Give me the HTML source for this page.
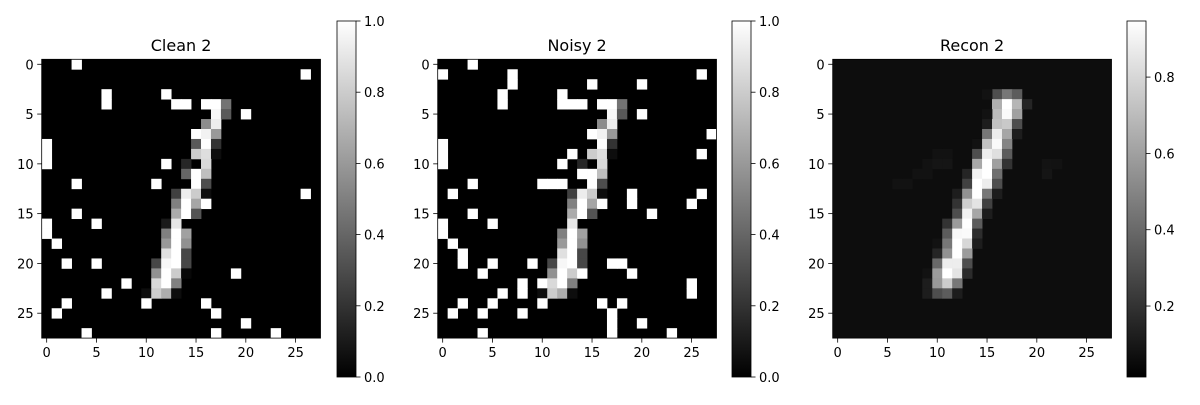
<!DOCTYPE html>
<html><head><meta charset="utf-8"><style>
body{margin:0;background:#fff;}
svg text{font-family:"DejaVu Sans","Liberation Sans",sans-serif;fill:#000;}
</style></head><body>
<svg id="fig" width="1200" height="400" viewBox="0 0 1200 400" xmlns="http://www.w3.org/2000/svg"></svg>
<script>
// [row, col, value] sparse pixel data (rest = 0)
const cleanPixels = [
[0,3,1],[1,26,1],[3,6,1],[3,12,1],[4,6,1],[4,13,1],[4,14,1],[4,16,1],[4,17,1],[4,18,0.45],
[5,17,0.97],[5,18,0.35],[5,20,1],[6,16,0.55],[6,17,0.93],[7,15,1],[7,16,0.95],[7,17,0.6],
[8,0,1],[8,15,0.35],[8,16,1],[8,17,0.2],[9,0,1],[9,15,0.8],[9,16,0.87],[9,17,0.05],
[10,0,1],[10,12,1],[10,14,0.15],[10,16,0.85],[11,14,0.4],[11,15,1],[11,16,0.75],
[12,3,1],[12,11,1],[12,15,1],[12,16,0.3],[13,13,0.25],[13,14,0.93],[13,15,0.8],[13,16,0.05],[13,26,1],
[14,13,0.5],[14,14,1],[14,15,0.65],[14,16,1],[15,3,1],[15,13,0.67],[15,14,1],[15,15,0.33],
[16,0,1],[16,5,1],[16,12,0.1],[16,13,0.9],[17,0,1],[17,12,0.5],[17,13,1],[17,14,0.63],
[18,1,1],[18,12,0.6],[18,13,1],[18,14,0.57],[19,12,0.88],[19,13,1],[19,14,0.28],
[20,2,1],[20,5,1],[20,11,0.28],[20,12,0.97],[20,13,1],[20,14,0.28],
[21,11,0.57],[21,12,1],[21,13,0.8],[21,14,0.03],[21,19,1],
[22,8,1],[22,11,0.85],[22,12,1],[22,13,0.5],[23,6,1],[23,10,0.05],[23,11,0.8],[23,12,0.68],[23,13,0.05],
[24,2,1],[24,10,1],[24,16,1],[25,1,1],[25,17,1],[26,20,1],[27,4,1],[27,17,1],[27,23,1]
];
const noisyPixels = [
[0,3,1],[1,0,1],[1,7,1],[1,26,1],[2,7,1],[2,15,1],[2,20,1],[3,6,1],[3,12,1],
[4,6,1],[4,12,1],[4,13,1],[4,14,1],[4,16,1],[4,17,1],[4,18,0.45],
[5,17,0.97],[5,18,0.35],[5,20,1],[6,16,0.55],[6,17,0.93],[7,15,1],[7,16,0.95],[7,17,0.6],[7,27,1],
[8,0,1],[8,16,1],[8,17,0.2],[9,0,1],[9,13,1],[9,15,0.8],[9,16,0.87],[9,17,0.05],[9,26,1],
[10,0,1],[10,12,1],[10,14,0.15],[10,16,0.85],[11,14,1],[11,15,1],[11,16,0.75],
[12,3,1],[12,10,1],[12,11,1],[12,12,1],[12,15,1],[12,16,0.3],
[13,1,1],[13,13,0.25],[13,14,0.93],[13,15,0.8],[13,16,0.05],[13,19,1],[13,26,1],
[14,13,0.5],[14,14,1],[14,15,0.65],[14,16,1],[14,19,1],[14,25,1],
[15,3,1],[15,13,0.67],[15,14,1],[15,15,0.33],[15,21,1],
[16,0,1],[16,5,1],[16,13,0.9],[17,0,1],[17,12,0.5],[17,13,1],[17,14,0.63],
[18,1,1],[18,12,0.6],[18,13,1],[18,14,0.57],[19,2,1],[19,12,0.88],[19,13,1],[19,14,0.28],
[20,2,1],[20,5,1],[20,9,1],[20,11,0.28],[20,12,0.97],[20,13,1],[20,14,0.28],[20,17,1],[20,18,1],
[21,4,1],[21,11,0.57],[21,12,1],[21,13,0.8],[21,14,1],[21,19,1],
[22,8,1],[22,10,1],[22,11,0.85],[22,12,1],[22,13,0.5],[22,25,1],
[23,6,1],[23,8,1],[23,10,0.05],[23,11,0.8],[23,12,0.68],[23,13,0.05],[23,25,1],
[24,2,1],[24,5,1],[24,10,1],[24,16,1],[24,18,1],
[25,1,1],[25,4,1],[25,8,1],[25,17,1],[26,17,1],[26,20,1],[27,4,1],[27,17,1],[27,23,1]
];
const reconBackground = 0.06;
const reconPixels = [
[3,16,0.3],[3,17,0.45],[3,18,0.35],[3,15,0.08],
[4,16,0.65],[4,17,0.97],[4,18,0.68],[4,19,0.15],
[5,16,0.7],[5,17,0.93],[5,18,0.6],[5,15,0.08],
[6,15,0.12],[6,16,0.72],[6,17,0.75],[6,18,0.3],
[7,15,0.45],[7,16,0.88],[7,17,0.62],[7,18,0.12],
[8,14,0.08],[8,15,0.72],[8,16,0.93],[8,17,0.5],
[9,14,0.3],[9,15,0.88],[9,16,0.83],[9,17,0.35],[9,10,0.08],[9,11,0.08],
[10,9,0.08],[10,10,0.09],[10,11,0.09],[10,14,0.63],[10,15,0.95],[10,16,0.6],[10,17,0.2],[10,21,0.085],[10,22,0.08],
[11,8,0.08],[11,9,0.08],[11,13,0.15],[11,14,0.9],[11,15,1.0],[11,16,0.42],[11,21,0.09],
[12,6,0.08],[12,7,0.08],[12,13,0.25],[12,14,0.96],[12,15,0.88],[12,16,0.3],
[13,12,0.12],[13,13,0.55],[13,14,0.97],[13,15,0.45],[13,16,0.12],
[14,12,0.2],[14,13,0.77],[14,14,0.85],[14,15,0.25],
[15,12,0.3],[15,13,0.9],[15,14,0.62],[15,15,0.12],
[16,11,0.2],[16,12,0.58],[16,13,0.98],[16,14,0.35],
[17,11,0.35],[17,12,0.92],[17,13,0.93],[17,14,0.18],
[18,10,0.08],[18,11,0.45],[18,12,1.0],[18,13,0.8],[18,14,0.12],
[19,10,0.15],[19,11,0.55],[19,12,0.95],[19,13,0.58],
[20,10,0.4],[20,11,0.88],[20,12,0.88],[20,13,0.3],
[21,9,0.08],[21,10,0.58],[21,11,1.0],[21,12,0.85],[21,13,0.17],
[22,9,0.12],[22,10,0.57],[22,11,0.76],[22,12,0.45],
[23,9,0.12],[23,10,0.3],[23,11,0.35],[23,12,0.12]
];
const axisTicks = [0,5,10,15,20,25];
const cbTicksA = [0.0,0.2,0.4,0.6,0.8,1.0];
const cbTicksR = [0.2,0.4,0.6,0.8];
const panelTitles = ["Clean 2","Noisy 2","Recon 2"];

const NS = "http://www.w3.org/2000/svg";
const svg = document.getElementById('fig');
function mk(tag, attrs, parent){const e=document.createElementNS(NS,tag);for(const k in attrs)e.setAttribute(k,attrs[k]);(parent||svg).appendChild(e);return e;}
function grayHex(t){t=Math.max(0,Math.min(1,t));const v=Math.round(t*255);return `rgb(${v},${v},${v})`;}

const N=28, TOP=59.3, SIZE=278.8;
function drawPanel(idx, left, pixels, bg, vmin, vmax, cbLeft, cbTicks){
  const cell=SIZE/N;
  const xs=c=>left+c*cell, ys=r=>TOP+r*cell;
  const norm=v=>(v-vmin)/(vmax-vmin);
  const g=mk('g',{});
  
  
  const bgr=mk('rect',{x:left,y:TOP,width:SIZE,height:SIZE,fill:grayHex(norm(bg))},g);
  
  
  pixels.forEach(p=>{
    const r=mk('rect',{x:xs(p[1]),y:ys(p[0]),width:cell+0.4,height:cell+0.4,fill:grayHex(norm(p[2]))},g);
    
    
  });
  mk('rect',{x:left,y:TOP,width:SIZE,height:SIZE,fill:'none',stroke:'#000','stroke-width':0.8},g);
  const t=mk('text',{x:left+SIZE/2,y:51,'font-size':16,'text-anchor':'middle'},g);
  t.textContent=panelTitles[idx];
  
  
  axisTicks.forEach(v=>{
    const cx=xs(v+0.5), cy=ys(v+0.5);
    mk('line',{x1:cx,x2:cx,y1:TOP+SIZE,y2:TOP+SIZE+4.5,stroke:'#000','stroke-width':0.8},g);
    const tx=mk('text',{x:cx,y:357,'font-size':13,'text-anchor':'middle'},g);
    tx.textContent=v;
    
    
    mk('line',{x1:left-4.5,x2:left,y1:cy,y2:cy,stroke:'#000','stroke-width':0.8},g);
    const ty=mk('text',{x:left-8,y:cy+5,'font-size':13,'text-anchor':'end'},g);
    ty.textContent=v;
    
    
  });
  const cbTop=21, cbH=356, cbW=19;
  const gid='grad'+idx;
  const defs=mk('defs',{},g);
  const lg=mk('linearGradient',{id:gid,x1:0,y1:1,x2:0,y2:0},defs);
  mk('stop',{offset:0,'stop-color':'#000'},lg);
  mk('stop',{offset:1,'stop-color':'#fff'},lg);
  const cb=mk('rect',{x:cbLeft,y:cbTop,width:cbW,height:cbH,fill:`url(#${gid})`,stroke:'#000','stroke-width':0.8},g);
  
  
  cbTicks.forEach(v=>{
    const y=cbTop+cbH*(1-norm(v));
    mk('line',{x1:cbLeft+cbW,x2:cbLeft+cbW+4.5,y1:y,y2:y,stroke:'#000','stroke-width':0.8},g);
    const l=mk('text',{x:cbLeft+cbW+8,y:y+5,'font-size':13},g);
    l.textContent=v.toFixed(1);
    
    
  });
}
drawPanel(0, 41.7, cleanPixels, 0, 0, 1, 337, cbTicksA);
drawPanel(1, 437.7, noisyPixels, 0, 0, 1, 732, cbTicksA);
drawPanel(2, 832.7, reconPixels, reconBackground, 0.014, 0.947, 1127, cbTicksR);
</script>
</body></html>
